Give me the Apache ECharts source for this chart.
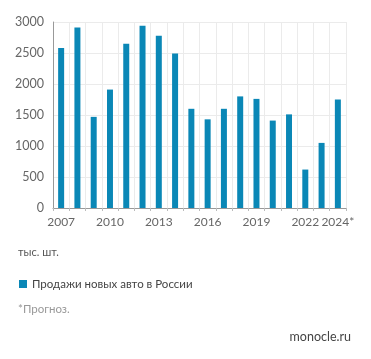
<!DOCTYPE html>
<html><head><meta charset="utf-8">
<script src="https://cdn.jsdelivr.net/npm/echarts@6/dist/echarts.min.js"></script>
<style>html,body{margin:0;padding:0;background:#fff}#c{width:371px;height:359px}</style>
</head><body><div id="c"></div>
<script>
var years = ['2007','2008','2009','2010','2011','2012','2013','2014','2015','2016','2017','2018','2019','2020','2021','2022','2023','2024*'];
var sales = [2580,2910,1470,1910,2650,2940,2780,2490,1600,1430,1600,1800,1760,1410,1510,620,1050,1750];
var shownLabels = ['2007','2010','2013','2016','2019','2022','2024*'];
var unitText = 'тыс. шт.';
var seriesName = 'Продажи новых авто в России';
var noteText = '*Прогноз.';
var sourceText = 'monocle.ru';
var font = 'Lato, "Noto Sans", sans-serif';
var chart = echarts.init(document.getElementById('c'));
chart.setOption({
  animation: false,
  grid: {left: 53, right: 25, top: 22, bottom: 151, containLabel: false},
  xAxis: {
    type: 'category', data: years,
    axisLine: {show: true, lineStyle: {color: '#999', width: 1}},
    axisTick: {show: true, alignWithLabel: false, interval: 0, length: 3, lineStyle: {color: '#bbb'}},
    axisLabel: {interval: 0, color: '#666', fontSize: 12, fontFamily: font, margin: 8,
      formatter: function (v) { return shownLabels.indexOf(v) >= 0 ? v : ''; }},
    splitLine: {show: true, interval: 0, lineStyle: {color: '#ebebeb', width: 1}}
  },
  yAxis: {
    type: 'value', min: 0, max: 3000, interval: 500,
    axisLine: {show: true, lineStyle: {color: '#999', width: 1}},
    axisTick: {show: false},
    axisLabel: {color: '#666', fontSize: 12.5, fontFamily: font, margin: 9,
      formatter: function (v) { return String(v); }},
    splitLine: {lineStyle: {color: '#ebebeb', width: 1}}
  },
  legend: {
    show: true, left: 14, top: 273, itemWidth: 8, itemHeight: 8, icon: 'rect', itemGap: 10,
    textStyle: {color: '#444', fontSize: 11.5, fontFamily: font},
    data: [seriesName]
  },
  graphic: [
    {type: 'text', left: 18, top: 247, style: {text: unitText, fill: '#555', fontSize: 11, fontFamily: font}},
    {type: 'text', left: 18, top: 303, style: {text: noteText, fill: '#999', fontSize: 11.5, fontFamily: font}},
    {type: 'text', right: 20, top: 330, style: {text: sourceText, fill: '#444', fontSize: 12.5, fontFamily: font}}
  ],
  series: [{
    name: seriesName, type: 'bar', data: sales, barWidth: 6,
    itemStyle: {color: '#0a87b6'}
  }]
});
</script></body></html>
